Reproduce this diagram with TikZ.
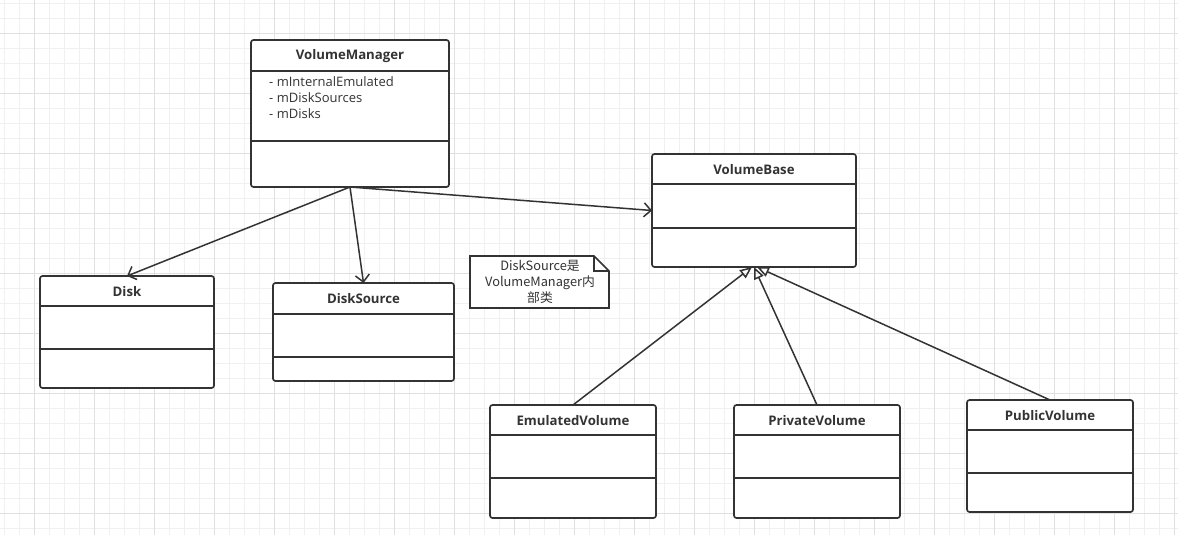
\documentclass[tikz,border=0pt]{standalone}
\usepackage{fontspec}
\setmainfont{Open Sans}
\newfontfamily\cjk{Noto Sans CJK SC}
\usetikzlibrary{arrows.meta}
\definecolor{ink}{HTML}{333333}
\definecolor{gminor}{HTML}{F0F0F0}
\definecolor{gmajor}{HTML}{E0E0E0}
\newcommand\UMLClass[8]{%
  \node[umlbox, minimum width=#4pt, minimum height=#5pt] (#1) at (#2,#3) {};
  \draw[umlline] ([yshift=-#6pt]#1.north west) -- ([yshift=-#6pt]#1.north east);
  \draw[umlline] ([yshift=-#7pt]#1.north west) -- ([yshift=-#7pt]#1.north east);
  \node[titletext] (#1-title) at ([yshift=-16pt]#1.north) {#8};
}
\begin{document}
\begin{tikzpicture}[x=1pt,y=-1pt,
  umlbox/.style={draw=ink, line width=1.7pt, rounded corners=2.5pt, fill=white, anchor=north west, inner sep=0pt, outer sep=0pt},
  umlline/.style={draw=ink, line width=1.7pt},
  titletext/.style={font=\bfseries\fontsize{13.2}{15}\selectfont, text=ink, inner sep=0pt},
  attrtext/.style={font=\fontsize{13}{16}\selectfont, text=ink, inner sep=0pt, anchor=north west, align=left},
  assoc/.style={draw=ink, line width=1.5pt, -{Straight Barb[length=7pt,width=14pt,line width=1.5pt]}},
  inherit/.style={draw=ink, line width=1.5pt, -{Triangle[open,length=12pt,width=10pt,line width=1.5pt]}},
]
\useasboundingbox (0,0) rectangle (1178,535);
\fill[white] (0,0) rectangle (1178,535);
\foreach \x in {4,19,...,1178} \draw[gminor, line width=0.8pt] (\x,0) -- (\x,535);
\foreach \y in {3,18,...,535} \draw[gminor, line width=0.8pt] (0,\y) -- (1178,\y);
\foreach \x in {34,94,...,1178} \draw[gmajor, line width=0.8pt] (\x,0) -- (\x,535);
\foreach \y in {33,93,...,535} \draw[gmajor, line width=0.8pt] (0,\y) -- (1178,\y);

\UMLClass{vm}{251}{40}{198}{147}{31}{101}{VolumeManager}
\node[attrtext] (vmattr) at (269,76) {- mInternalEmulated\\- mDiskSources\\- mDisks};
\UMLClass{vb}{652}{154}{204}{113}{30}{74}{VolumeBase}
\UMLClass{disk}{40}{276}{174}{112}{30}{73}{Disk}
\UMLClass{ds}{273}{283}{181}{98}{31}{74}{DiskSource}
\UMLClass{ev}{490}{405}{166}{113}{30}{73}{EmulatedVolume}
\UMLClass{pv}{734}{405}{166}{113}{30}{73}{PrivateVolume}
\UMLClass{puv}{967}{400}{166}{112}{30}{73}{PublicVolume}

% note
\coordinate (n1) at (470,256);
\coordinate (n2) at (594,256);
\coordinate (n3) at (609,271);
\coordinate (n4) at (609,308);
\coordinate (n5) at (470,308);
\coordinate (n6) at (594,271);
\draw[ink, line width=1.7pt, fill=white, line join=miter] (n1) -- (n2) -- (n3) -- (n4) -- (n5) -- cycle;
\draw[ink, line width=1.5pt] (n2) -- (n6) -- (n3);
\node[font=\cjk\fontsize{12.8}{16}\selectfont, text=ink, align=center, inner sep=0pt] (note) at (540,282) {DiskSource是\\VolumeManager内\\部类};

% associations
\draw[assoc] (vm.south) -- (disk.north);
\draw[assoc] (vm.south) -- (ds.north);
\draw[assoc] (vm.south) -- (vb.west);
% inheritance
\draw[inherit] (ev.north) -- ([xshift=-2pt]vb.south);
\draw[inherit] (pv.north) -- ([xshift=0pt]vb.south);
\draw[inherit] (puv.north) -- ([xshift=3pt]vb.south);
\end{tikzpicture}
\end{document}
